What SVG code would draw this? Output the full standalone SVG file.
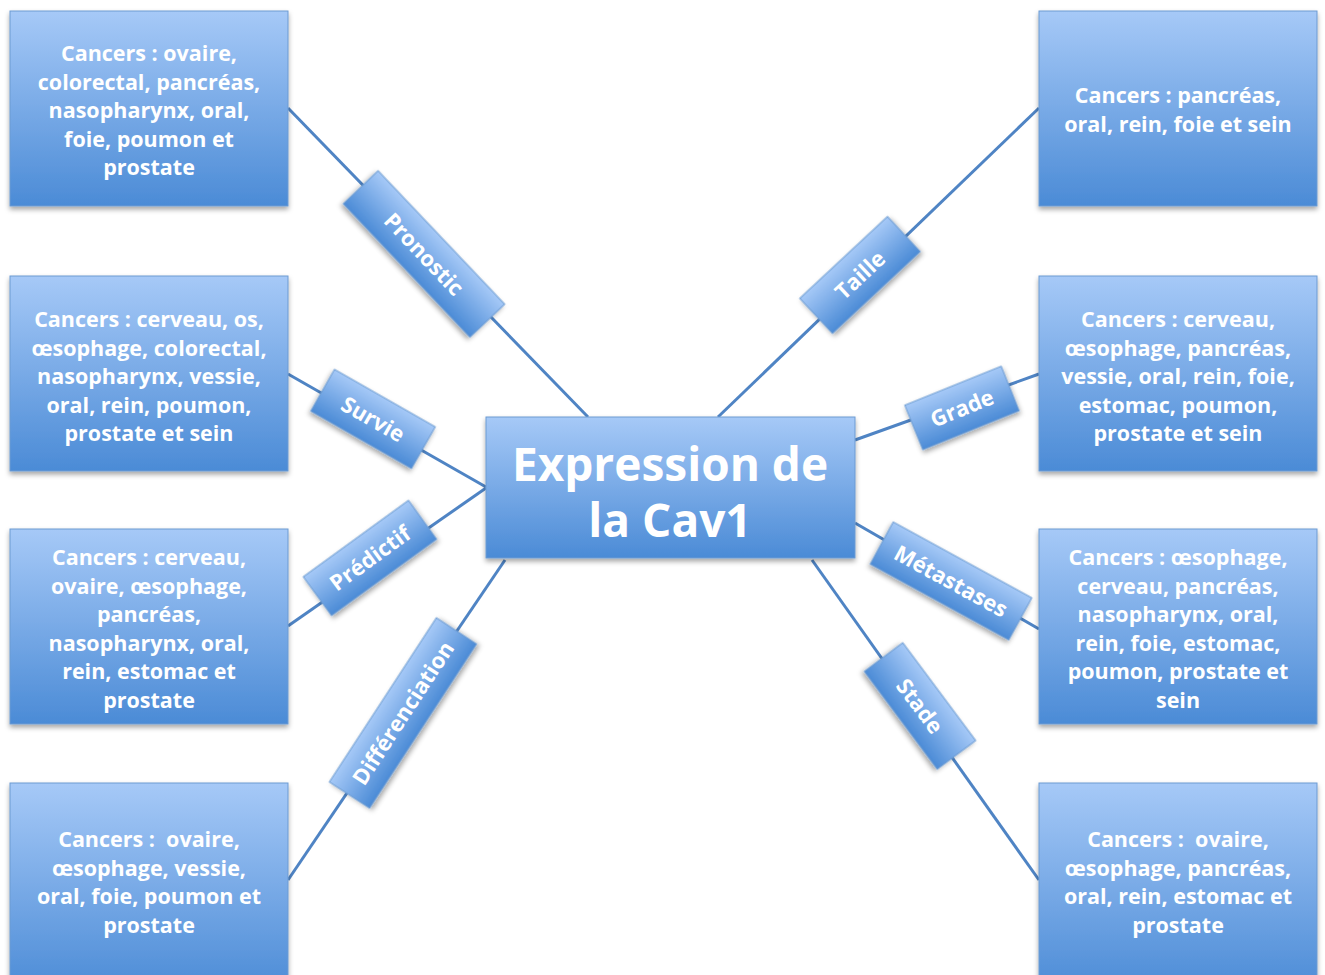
<svg xmlns="http://www.w3.org/2000/svg" width="1325" height="975" viewBox="0 0 1325 975">
<defs>
<linearGradient id="g" x1="0" y1="0" x2="0" y2="1">
<stop offset="0" stop-color="#a6c9f7"/>
<stop offset="1" stop-color="#4b8bd6"/>
</linearGradient>
<filter id="sh" x="-10%" y="-10%" width="120%" height="130%">
<feDropShadow dx="0" dy="3" stdDeviation="2.5" flood-color="#000" flood-opacity="0.35"/>
</filter>
</defs>
<style>
.box{fill:url(#g);stroke:#6c9bd2;stroke-width:1;filter:url(#sh)}
.t{font-family:"Open Sans",Lato,"Liberation Sans",sans-serif;font-weight:bold;fill:#fff;text-anchor:middle;font-size:21.5px;white-space:pre}
.lt{font-family:"Open Sans",Lato,"Liberation Sans",sans-serif;font-weight:bold;fill:#fff;text-anchor:middle;font-size:22px}
.ct{font-family:"Open Sans",Lato,"Liberation Sans",sans-serif;font-weight:bold;fill:#fff;text-anchor:middle;font-size:46px}
.ln{stroke:#4f84c4;stroke-width:3;fill:none}
</style>
<rect width="1325" height="975" fill="#fff"/>
<g id="connectors">
<line class="ln" x1="288" y1="108" x2="588" y2="417"/>
<line class="ln" x1="288" y1="374" x2="486" y2="487"/>
<line class="ln" x1="288" y1="626" x2="486" y2="488"/>
<line class="ln" x1="288" y1="880" x2="505" y2="560"/>
<line class="ln" x1="1039" y1="108" x2="718" y2="417"/>
<line class="ln" x1="1039" y1="374" x2="855" y2="440"/>
<line class="ln" x1="855" y1="523" x2="1039" y2="629"/>
<line class="ln" x1="812" y1="560" x2="1039" y2="880"/>
<g transform="translate(424,254) rotate(46.5)"><rect class="box" x="-92" y="-24" width="184" height="48"/><text class="lt" x="0" y="8">Pronostic</text></g>
<g transform="translate(373,419) rotate(29.7)"><rect class="box" x="-58" y="-24" width="116" height="48"/><text class="lt" x="0" y="8">Survie</text></g>
<g transform="translate(370,558) rotate(-36)"><rect class="box" x="-65" y="-24" width="130" height="48"/><text class="lt" x="0" y="8">Prédictif</text></g>
<g transform="translate(403,713) rotate(-56.9)"><rect class="box" x="-98" y="-24" width="196" height="48"/><text class="lt" x="0" y="8">Différenciation</text></g>
<g transform="translate(860,275) rotate(-43)"><rect class="box" x="-60" y="-24" width="120" height="48"/><text class="lt" x="0" y="8">Taille</text></g>
<g transform="translate(962,408) rotate(-22)"><rect class="box" x="-52" y="-24" width="104" height="48"/><text class="lt" x="0" y="8">Grade</text></g>
<g transform="translate(951,581) rotate(28.7)"><rect class="box" x="-79" y="-24" width="158" height="48"/><text class="lt" x="0" y="8">Métastases</text></g>
<g transform="translate(920,706) rotate(53.3)"><rect class="box" x="-61" y="-24" width="122" height="48"/><text class="lt" x="0" y="8">Stade</text></g>
</g>
<g id="center">
<rect class="box" x="486" y="417" width="369" height="141"/>
<text class="ct" x="670" y="481">Expression de</text>
<text class="ct" x="670" y="537">la Cav1</text>
</g>
<g id="l1">
<rect class="box" x="10" y="11" width="278" height="195"/>
<text class="t" x="149" y="61">Cancers : ovaire,</text>
<text class="t" x="149" y="89.5">colorectal, pancréas,</text>
<text class="t" x="149" y="118">nasopharynx, oral,</text>
<text class="t" x="149" y="146.5">foie, poumon et</text>
<text class="t" x="149" y="175">prostate</text>
</g>
<g id="l2">
<rect class="box" x="10" y="276" width="278" height="195"/>
<text class="t" x="149" y="327">Cancers : cerveau, os,</text>
<text class="t" x="149" y="355.5">œsophage, colorectal,</text>
<text class="t" x="149" y="384">nasopharynx, vessie,</text>
<text class="t" x="149" y="412.5">oral, rein, poumon,</text>
<text class="t" x="149" y="441">prostate et sein</text>
</g>
<g id="l3">
<rect class="box" x="10" y="529" width="278" height="195"/>
<text class="t" x="149" y="565">Cancers : cerveau,</text>
<text class="t" x="149" y="593.5">ovaire, œsophage,</text>
<text class="t" x="149" y="622">pancréas,</text>
<text class="t" x="149" y="650.5">nasopharynx, oral,</text>
<text class="t" x="149" y="679">rein, estomac et</text>
<text class="t" x="149" y="707.5">prostate</text>
</g>
<g id="l4">
<rect class="box" x="10" y="783" width="278" height="210"/>
<text class="t" x="149" y="847">Cancers :  ovaire,</text>
<text class="t" x="149" y="875.5">œsophage, vessie,</text>
<text class="t" x="149" y="904">oral, foie, poumon et</text>
<text class="t" x="149" y="932.5">prostate</text>
</g>
<g id="r1">
<rect class="box" x="1039" y="11" width="278" height="195"/>
<text class="t" x="1178" y="103">Cancers : pancréas,</text>
<text class="t" x="1178" y="131.5">oral, rein, foie et sein</text>
</g>
<g id="r2">
<rect class="box" x="1039" y="276" width="278" height="195"/>
<text class="t" x="1178" y="327">Cancers : cerveau,</text>
<text class="t" x="1178" y="355.5">œsophage, pancréas,</text>
<text class="t" x="1178" y="384">vessie, oral, rein, foie,</text>
<text class="t" x="1178" y="412.5">estomac, poumon,</text>
<text class="t" x="1178" y="441">prostate et sein</text>
</g>
<g id="r3">
<rect class="box" x="1039" y="529" width="278" height="195"/>
<text class="t" x="1178" y="565">Cancers : œsophage,</text>
<text class="t" x="1178" y="593.5">cerveau, pancréas,</text>
<text class="t" x="1178" y="622">nasopharynx, oral,</text>
<text class="t" x="1178" y="650.5">rein, foie, estomac,</text>
<text class="t" x="1178" y="679">poumon, prostate et</text>
<text class="t" x="1178" y="707.5">sein</text>
</g>
<g id="r4">
<rect class="box" x="1039" y="783" width="278" height="210"/>
<text class="t" x="1178" y="847">Cancers :  ovaire,</text>
<text class="t" x="1178" y="875.5">œsophage, pancréas,</text>
<text class="t" x="1178" y="904">oral, rein, estomac et</text>
<text class="t" x="1178" y="932.5">prostate</text>
</g>
</svg>
